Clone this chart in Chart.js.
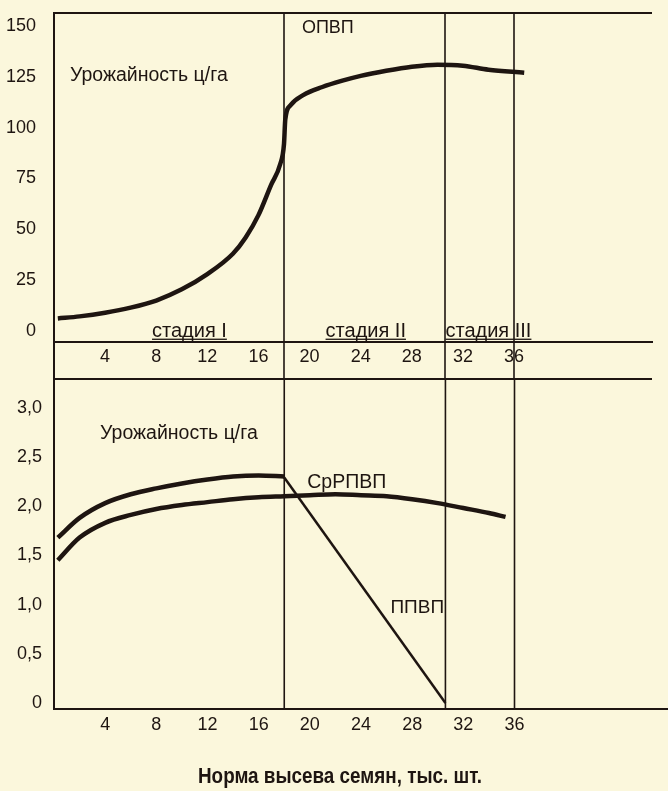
<!DOCTYPE html>
<html>
<head>
<meta charset="utf-8">
<script src="https://cdn.jsdelivr.net/npm/chart.js@4/dist/chart.umd.min.js"></script>
<style>
  html, body { margin:0; padding:0; background:#fbf7dc; }
  #wrap { position:relative; width:668px; height:791px; }
  canvas { position:absolute; left:0; }
  #topChart { top:0; }
  #bottomChart { top:378px; }
</style>
</head>
<body>
<div id="wrap">
  <canvas id="topChart" width="668" height="378"></canvas>
  <canvas id="bottomChart" width="668" height="413"></canvas>
</div>
<script>
// seeding rate, thousand seeds
var xTicks = [4, 8, 12, 16, 20, 24, 28, 32, 36];
var stageBounds = [18, 30.6, 36];

// top panel: ОПВП
var opvpX = [0.3, 2, 4, 6, 8, 10, 12, 14, 15, 16, 17, 17.7, 18, 18.1, 18.5, 19.5, 21, 22.5, 24, 26, 28, 30, 32, 34, 36.8];
var opvpY = [6.2, 7.2, 9, 11.5, 15, 20.5, 28, 38, 46, 57, 72, 82, 92, 104, 111, 116, 120, 123, 125.5, 128, 130, 131, 130.5, 128.5, 127];
var topTicks = [0, 25, 50, 75, 100, 125, 150];

// bottom panel: ППВП and СрРПВП
var ppvpX = [0.3, 2, 4, 6, 8, 10, 12, 14, 16, 18];
var ppvpY = [1.68, 1.88, 2.03, 2.12, 2.18, 2.23, 2.27, 2.30, 2.31, 2.30];
var ppvpDropX = [18, 30.6];
var ppvpDropY = [2.29, 0];
var srX = [0.3, 2, 4, 6, 8, 10, 12, 14, 16, 18, 20, 22, 24, 26, 28, 30, 32, 34, 35.3];
var srY = [1.45, 1.68, 1.83, 1.91, 1.97, 2.01, 2.04, 2.07, 2.09, 2.10, 2.11, 2.12, 2.11, 2.10, 2.07, 2.03, 1.98, 1.93, 1.89];
var bottomTicks = [0, 0.5, 1, 1.5, 2, 2.5, 3];
var bottomTickLabels = ['0', '0,5', '1,0', '1,5', '2,0', '2,5', '3,0'];

var INK = '#1e1511';
var FONT = "'Liberation Sans', Arial, sans-serif";

function pts(xs, ys) {
  return xs.map(function(x, i){ return {x: x, y: ys[i]}; });
}

function text(ctx, s, x, y, size, align, underline) {
  ctx.save();
  ctx.fillStyle = INK;
  ctx.font = size + 'px ' + FONT;
  ctx.textAlign = align || 'left';
  ctx.textBaseline = 'middle';
  ctx.fillText(s, x, y);
  if (underline) {
    var w = ctx.measureText(s).width;
    var x0 = align === 'center' ? x - w / 2 : x;
    ctx.fillRect(x0, y + size * 0.38, w, 1.3);
  }
  ctx.restore();
}

function line(ctx, x1, y1, x2, y2, w) {
  ctx.save();
  ctx.strokeStyle = INK;
  ctx.lineWidth = w || 2;
  ctx.beginPath();
  ctx.moveTo(x1, y1);
  ctx.lineTo(x2, y2);
  ctx.stroke();
  ctx.restore();
}

var topDecor = {
  id: 'topDecor',
  afterDraw: function(chart) {
    var ctx = chart.ctx, a = chart.chartArea;
    var xs = chart.scales.x, ys = chart.scales.y;
    line(ctx, a.left, a.top, a.right, a.top, 2);
    line(ctx, a.left, a.top, a.left, chart.height, 2);
    stageBounds.forEach(function(v){
      var px = xs.getPixelForValue(v);
      line(ctx, px, a.top, px, chart.height, 1.6);
    });
    text(ctx, 'ОПВП', xs.getPixelForValue(19.4), ys.getPixelForValue(149), 18);
    text(ctx, 'Урожайность ц/га', xs.getPixelForValue(1.25), ys.getPixelForValue(125.4), 19.5);
    text(ctx, 'стадия I', xs.getPixelForValue(10.6), ys.getPixelForValue(0), 20, 'center', true);
    text(ctx, 'стадия II', xs.getPixelForValue(24.4), ys.getPixelForValue(0), 20, 'center', true);
    text(ctx, 'стадия III', xs.getPixelForValue(34), ys.getPixelForValue(0), 20, 'center', true);
  }
};

var bottomDecor = {
  id: 'bottomDecor',
  afterDraw: function(chart) {
    var ctx = chart.ctx, a = chart.chartArea;
    var xs = chart.scales.x, ys = chart.scales.y;
    line(ctx, a.left, a.top, 652, a.top, 2);
    stageBounds.forEach(function(v){
      var px = xs.getPixelForValue(v);
      line(ctx, px, 0, px, a.bottom, 1.6);
    });
    text(ctx, 'Урожайность ц/га', xs.getPixelForValue(3.6), ys.getPixelForValue(2.74), 19.5);
    text(ctx, 'СрРПВП', xs.getPixelForValue(19.8), ys.getPixelForValue(2.24), 19.5);
    text(ctx, 'ППВП', xs.getPixelForValue(26.3), ys.getPixelForValue(0.97), 19);

    // axis title, squeezed to the narrow bold face of the original
    var title = 'Норма высева семян, тыс. шт.';
    ctx.save();
    ctx.fillStyle = INK;
    ctx.font = 'bold 22px ' + FONT;
    ctx.textBaseline = 'middle';
    var w = ctx.measureText(title).width;
    var k = 284 / w;
    ctx.translate(198, 399);
    ctx.scale(k, 1);
    ctx.fillText(title, 0, 0);
    ctx.restore();
  }
};

function xAxis(max, pad, h) {
  return {
    type: 'linear', min: 0, max: max,
    grid: { display: false, drawTicks: false },
    border: { color: INK, width: 2 },
    ticks: { color: INK, font: { family: FONT, size: 18 }, padding: pad },
    afterBuildTicks: function(s){ s.ticks = xTicks.map(function(v){ return {value: v}; }); },
    afterFit: function(s){ s.height = h; s.paddingLeft = 0; s.paddingRight = 0; }
  };
}

function yAxis(min, max, ticks, labels, pad) {
  return {
    min: min, max: max,
    grid: { display: false, drawTicks: false },
    border: { color: INK, width: 2 },
    ticks: {
      color: INK, font: { family: FONT, size: 18 }, padding: pad,
      callback: function(v){ var i = ticks.indexOf(v); return i >= 0 ? labels[i] : ''; }
    },
    afterBuildTicks: function(s){ s.ticks = ticks.map(function(v){ return {value: v}; }); },
    afterFit: function(s){ s.width = 54; s.paddingTop = 0; s.paddingBottom = 0; }
  };
}

new Chart(document.getElementById('topChart'), {
  type: 'scatter',
  data: {
    datasets: [{
      label: 'ОПВП',
      data: pts(opvpX, opvpY),
      showLine: true,
      borderColor: INK,
      borderWidth: 4.5,
      pointRadius: 0,
      cubicInterpolationMode: 'monotone'
    }]
  },
  options: {
    responsive: false,
    animation: false,
    layout: { padding: { top: 13, right: 16, left: 0, bottom: 0 } },
    plugins: { legend: { display: false }, tooltip: { enabled: false } },
    scales: {
      x: xAxis(46.8, 4, 36),
      y: yAxis(-5.4, 156.4, topTicks, topTicks.map(String), 18)
    }
  },
  plugins: [topDecor]
});

new Chart(document.getElementById('bottomChart'), {
  type: 'scatter',
  data: {
    datasets: [{
      label: 'ППВП',
      data: pts(ppvpX, ppvpY),
      showLine: true,
      borderColor: INK,
      borderWidth: 4.5,
      pointRadius: 0,
      cubicInterpolationMode: 'monotone'
    }, {
      label: 'ППВП',
      data: pts(ppvpDropX, ppvpDropY),
      showLine: true,
      borderColor: INK,
      borderWidth: 2.5,
      pointRadius: 0
    }, {
      label: 'СрРПВП',
      data: pts(srX, srY),
      showLine: true,
      borderColor: INK,
      borderWidth: 4.5,
      pointRadius: 0,
      cubicInterpolationMode: 'monotone'
    }]
  },
  options: {
    responsive: false,
    animation: false,
    layout: { padding: { top: 1, right: 0, left: 0, bottom: 29 } },
    plugins: { legend: { display: false }, tooltip: { enabled: false } },
    scales: {
      x: xAxis(48, 5, 53),
      y: yAxis(-0.06, 3.29, bottomTicks, bottomTickLabels, 12)
    }
  },
  plugins: [bottomDecor]
});
</script>
</body>
</html>
